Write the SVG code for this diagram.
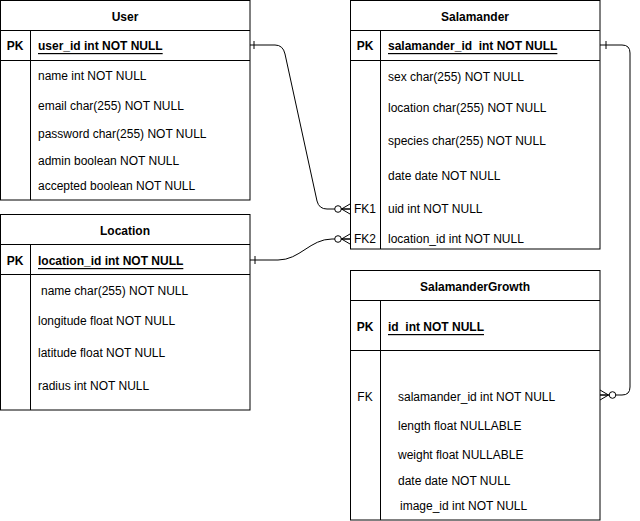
<svg xmlns="http://www.w3.org/2000/svg" width="640" height="521" viewBox="0 0 640 521">
<style>
.box{fill:#fff;stroke:#000;stroke-width:1}
.ln{stroke:#000;stroke-width:1;fill:none}
text{font-family:"Liberation Sans",Arial,sans-serif;font-size:12px;fill:#000;dominant-baseline:central;white-space:pre}
.t{font-weight:bold;text-anchor:middle}
.k{font-weight:bold;text-anchor:middle}
.fk{text-anchor:middle}
.pk{font-weight:bold;text-decoration:underline}
.c{stroke:#000;stroke-width:1;fill:none}
.o{stroke:#000;stroke-width:1;fill:#fff}
</style>
<rect width="640" height="521" fill="#fff"/>
<g id="connectors">
  <path class="c" d="M250,45 L275,45 Q283,45 285,54 L317,201 Q319,209 327,209 L350,209"/>
  <line class="c" x1="254" y1="41" x2="254" y2="49"/>
  <circle class="o" cx="338" cy="209" r="3.3"/>
  <path class="c" d="M350,204 L341.5,209 L350,214 M341.5,209 L350,209"/>

  <path class="c" d="M250,260 L278,260 C300,260 310,239 332,239 L350,239"/>
  <line class="c" x1="255" y1="256" x2="255" y2="264"/>
  <circle class="o" cx="338" cy="239" r="3.3"/>
  <path class="c" d="M350,234 L341.5,239 L350,244 M341.5,239 L350,239"/>

  <path class="c" d="M600,45 L622,45 Q630,45 630,53 L630,387 Q630,395 622,395 L600,395"/>
  <line class="c" x1="606" y1="41" x2="606" y2="49"/>
  <circle class="o" cx="612.5" cy="395" r="3.3"/>
  <path class="c" d="M600,390 L608.5,395 L600,400 M608.5,395 L600,395"/>
</g>
<g id="user">
  <rect class="box" x="0.5" y="0.5" width="249.5" height="199.5"/>
  <line class="ln" x1="0" y1="30.5" x2="250" y2="30.5"/>
  <line class="ln" x1="0" y1="60.5" x2="250" y2="60.5"/>
  <line class="ln" x1="30.5" y1="30" x2="30.5" y2="200"/>
  <text class="t" x="125" y="17">User</text>
  <text class="k" x="15" y="46">PK</text>
  <text class="pk" x="38" y="46">user_id int NOT NULL</text>
  <text x="38" y="76">name int NOT NULL</text>
  <text x="38" y="106">email char(255) NOT NULL</text>
  <text x="38" y="134">password char(255) NOT NULL</text>
  <text x="38" y="161">admin boolean NOT NULL</text>
  <text x="38" y="186">accepted boolean NOT NULL</text>
</g>
<g id="location">
  <rect class="box" x="0.5" y="214.5" width="249.5" height="195.5"/>
  <line class="ln" x1="0" y1="244.5" x2="250" y2="244.5"/>
  <line class="ln" x1="0" y1="274.5" x2="250" y2="274.5"/>
  <line class="ln" x1="30.5" y1="244" x2="30.5" y2="410"/>
  <text class="t" x="125" y="231">Location</text>
  <text class="k" x="15" y="261">PK</text>
  <text class="pk" x="38" y="261">location_id int NOT NULL</text>
  <text x="41" y="291">name char(255) NOT NULL</text>
  <text x="38" y="321">longitude float NOT NULL</text>
  <text x="38" y="353">latitude float NOT NULL</text>
  <text x="38" y="386">radius int NOT NULL</text>
</g>
<g id="salamander">
  <rect class="box" x="350.5" y="0.5" width="249.5" height="248.5"/>
  <line class="ln" x1="350" y1="30.5" x2="600" y2="30.5"/>
  <line class="ln" x1="350" y1="60.5" x2="600" y2="60.5"/>
  <line class="ln" x1="380.5" y1="30" x2="380.5" y2="249"/>
  <text class="t" x="475" y="17">Salamander</text>
  <text class="k" x="365" y="46">PK</text>
  <text class="pk" x="388" y="46" xml:space="preserve">salamander_id  int NOT NULL</text>
  <text x="388" y="77">sex char(255) NOT NULL</text>
  <text x="388" y="108">location char(255) NOT NULL</text>
  <text x="388" y="141">species char(255) NOT NULL</text>
  <text x="388" y="176">date date NOT NULL</text>
  <text class="fk" x="365" y="209">FK1</text>
  <text x="388" y="209">uid int NOT NULL</text>
  <text class="fk" x="365" y="239">FK2</text>
  <text x="388" y="239">location_id int NOT NULL</text>
</g>
<g id="salamandergrowth">
  <rect class="box" x="350.5" y="270.5" width="249.5" height="249.5"/>
  <line class="ln" x1="350" y1="300.5" x2="600" y2="300.5"/>
  <line class="ln" x1="350" y1="350.5" x2="600" y2="350.5"/>
  <line class="ln" x1="380.5" y1="300" x2="380.5" y2="520"/>
  <text class="t" x="475" y="287">SalamanderGrowth</text>
  <text class="k" x="365" y="327">PK</text>
  <text class="pk" x="388" y="327" xml:space="preserve">id  int NOT NULL</text>
  <text class="fk" x="365" y="397">FK</text>
  <text x="398" y="397">salamander_id int NOT NULL</text>
  <text x="398" y="426">length float NULLABLE</text>
  <text x="398" y="455">weight float NULLABLE</text>
  <text x="398" y="481">date date NOT NULL</text>
  <text x="400" y="506">image_id int NOT NULL</text>
</g>
</svg>
